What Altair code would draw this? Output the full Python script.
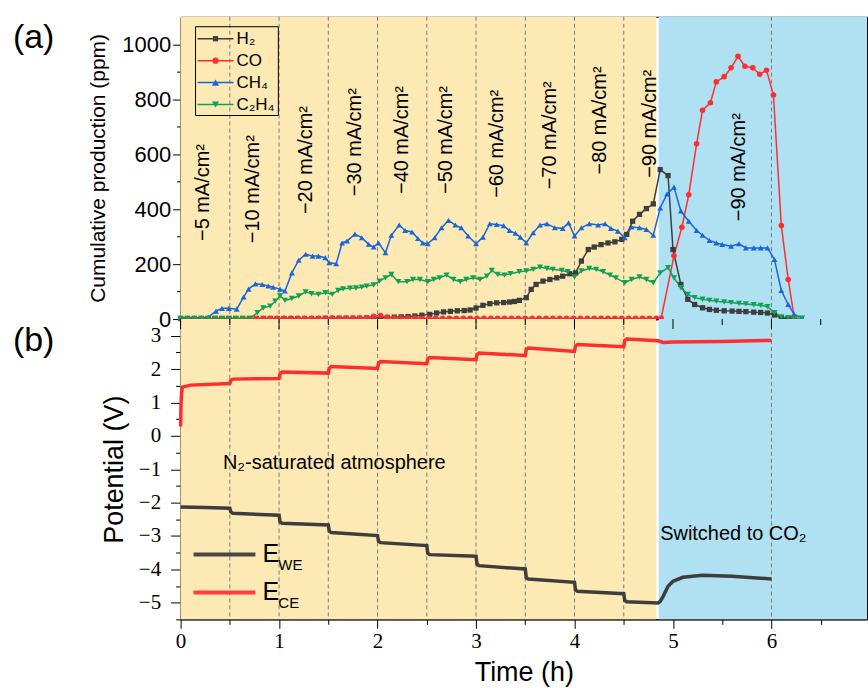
import altair as alt
import pandas as pd

# ---------------- shared time axis ----------------
X_MAX = 6.97
div_t = [0.5, 1.0, 1.5, 2.0, 2.5, 3.0, 3.5, 4.0, 4.5, 6.0]          # dashed separators
x_ticks = [0, 0.5, 1, 1.5, 2, 2.5, 3, 3.5, 4, 4.5, 5, 5.5, 6, 6.5]
x_major = [0, 1, 2, 3, 4, 5, 6]
x_minor = [0.5, 1.5, 2.5, 3.5, 4.5, 5.5, 6.5]
bg_x0 = [0, 4.855]
bg_x1 = [4.83, X_MAX]
bg_fill = ["#FDE9B3", "#AFE1F3"]

# ---------------- (a) cumulative production, ppm ----------------
h2 = [(0.00, 2), (0.07, 2), (0.14, 2), (0.21, 2), (0.28, 2), (0.35, 2), (0.42, 2), (0.49, 2),
      (0.56, 2), (0.63, 2), (0.70, 2), (0.77, 2), (0.84, 2), (0.91, 2), (0.98, 2), (1.05, 2),
      (1.12, 2), (1.19, 2), (1.26, 2), (1.33, 2), (1.40, 2), (1.47, 3), (1.54, 3), (1.61, 3),
      (1.68, 3), (1.75, 3), (1.82, 3), (1.89, 4), (1.96, 4), (2.03, 5), (2.10, 6), (2.17, 7),
      (2.24, 8), (2.31, 9), (2.38, 11), (2.45, 14), (2.53, 17), (2.60, 22), (2.67, 26),
      (2.74, 28), (2.81, 30), (2.88, 31), (2.94, 33), (3.00, 40), (3.07, 50), (3.14, 56),
      (3.21, 59), (3.28, 60), (3.34, 62), (3.39, 64), (3.44, 68), (3.51, 78), (3.56, 108),
      (3.61, 126), (3.68, 138), (3.75, 144), (3.82, 150), (3.88, 156), (3.95, 165), (4.01, 168),
      (4.07, 211), (4.14, 253), (4.20, 262), (4.27, 271), (4.34, 277), (4.41, 281), (4.48, 290),
      (4.53, 308), (4.59, 356), (4.66, 381), (4.73, 402), (4.80, 419), (4.87, 544), (4.95, 522),
      (5.00, 253), (5.08, 126), (5.15, 72), (5.22, 53), (5.30, 41), (5.37, 35), (5.44, 32),
      (5.52, 30), (5.60, 29), (5.67, 28), (5.74, 27), (5.82, 25), (5.89, 24), (5.96, 22),
      (6.03, 15), (6.10, 4), (6.17, 2), (6.23, 1)]

co = [(0.00, 1), (0.07, 1), (0.14, 1), (0.21, 1), (0.28, 1), (0.35, 1), (0.42, 1), (0.49, 1),
      (0.56, 1), (0.63, 1), (0.70, 1), (0.77, 2), (0.84, 3), (0.91, 3), (0.98, 3), (1.05, 3),
      (1.12, 3), (1.19, 3), (1.26, 3), (1.33, 3), (1.40, 3), (1.47, 3), (1.54, 3), (1.61, 3),
      (1.68, 4), (1.75, 4), (1.82, 4), (1.89, 5), (1.96, 10), (2.03, 13), (2.10, 6), (2.17, 4),
      (2.24, 4), (2.31, 4), (2.38, 4), (2.45, 3), (2.52, 3), (2.59, 3), (2.66, 3), (2.73, 3),
      (2.80, 3), (2.87, 3), (2.94, 3), (3.01, 3), (3.08, 3), (3.15, 3), (3.22, 3), (3.29, 3),
      (3.36, 3), (3.43, 3), (3.50, 3), (3.57, 3), (3.64, 3), (3.71, 3), (3.78, 3), (3.85, 3),
      (3.92, 3), (3.99, 3), (4.06, 3), (4.13, 3), (4.20, 3), (4.27, 3), (4.34, 3), (4.41, 3),
      (4.48, 3), (4.55, 3), (4.62, 3), (4.69, 3), (4.76, 3), (4.83, 3), (4.88, 3), (5.01, 230),
      (5.09, 334), (5.16, 452), (5.24, 638), (5.30, 760), (5.38, 787), (5.44, 863), (5.52, 882),
      (5.59, 914), (5.66, 956), (5.73, 920), (5.81, 914), (5.88, 891), (5.95, 905), (6.02, 815),
      (6.10, 340), (6.17, 144), (6.23, 8)]

ch4 = [(0.00, 5), (0.07, 5), (0.14, 5), (0.21, 5), (0.28, 7), (0.36, 29), (0.42, 39), (0.49, 39),
       (0.57, 36), (0.64, 80), (0.69, 109), (0.76, 128), (0.83, 126), (0.89, 120), (0.94, 116),
       (1.01, 109), (1.06, 102), (1.13, 168), (1.20, 214), (1.27, 236), (1.34, 229), (1.40, 229),
       (1.47, 223), (1.51, 205), (1.58, 201), (1.64, 277), (1.69, 284), (1.77, 309), (1.84, 296),
       (1.91, 272), (1.96, 262), (2.01, 277), (2.08, 241), (2.14, 305), (2.22, 342), (2.28, 322),
       (2.35, 317), (2.41, 293), (2.46, 277), (2.51, 274), (2.58, 296), (2.65, 332), (2.72, 359),
       (2.79, 342), (2.85, 332), (2.92, 302), (3.00, 274), (3.07, 298), (3.14, 347), (3.21, 344),
       (3.28, 340), (3.34, 322), (3.40, 312), (3.45, 298), (3.51, 277), (3.58, 314), (3.65, 342),
       (3.72, 347), (3.80, 332), (3.88, 330), (3.94, 350), (4.00, 302), (4.07, 332), (4.15, 347),
       (4.24, 342), (4.31, 347), (4.37, 330), (4.44, 320), (4.51, 296), (4.58, 335), (4.66, 332),
       (4.73, 326), (4.80, 305), (4.87, 404), (4.94, 455), (5.01, 480), (5.08, 393), (5.16, 356),
       (5.24, 322), (5.30, 305), (5.37, 286), (5.44, 277), (5.50, 271), (5.59, 265), (5.67, 274),
       (5.74, 259), (5.82, 259), (5.89, 259), (5.96, 259), (6.03, 217), (6.10, 104), (6.17, 53),
       (6.23, 17), (6.31, 5)]

c2h4 = [(0.00, 2), (0.07, 2), (0.14, 2), (0.21, 2), (0.28, 2), (0.35, 2), (0.42, 2), (0.49, 2),
        (0.56, 2), (0.63, 2), (0.70, 2), (0.78, 23), (0.84, 41), (0.91, 47), (0.96, 65),
        (1.01, 84), (1.06, 68), (1.13, 75), (1.20, 84), (1.27, 99), (1.33, 92), (1.40, 90),
        (1.47, 96), (1.54, 90), (1.60, 104), (1.65, 110), (1.72, 112), (1.78, 113), (1.84, 116),
        (1.89, 120), (1.96, 124), (2.02, 138), (2.08, 150), (2.14, 162), (2.21, 136), (2.30, 136),
        (2.36, 144), (2.43, 144), (2.51, 136), (2.57, 144), (2.63, 150), (2.70, 160), (2.77, 144),
        (2.84, 136), (2.90, 144), (2.97, 150), (3.04, 144), (3.11, 156), (3.16, 177), (3.22, 162),
        (3.29, 160), (3.35, 165), (3.44, 172), (3.51, 175), (3.58, 181), (3.65, 189), (3.72, 184),
        (3.78, 181), (3.87, 177), (3.93, 172), (4.00, 153), (4.07, 175), (4.15, 184), (4.22, 181),
        (4.29, 172), (4.36, 160), (4.42, 150), (4.51, 132), (4.58, 144), (4.66, 153), (4.73, 144),
        (4.80, 132), (4.87, 168), (4.95, 187), (5.01, 150), (5.08, 114), (5.15, 90), (5.22, 78),
        (5.30, 72), (5.37, 68), (5.44, 65), (5.52, 62), (5.59, 60), (5.67, 57), (5.74, 55),
        (5.82, 52), (5.89, 50), (5.96, 45), (6.03, 23), (6.10, 8), (6.17, 5), (6.23, 4), (6.31, 3)]

gas_names = ["H₂", "CO", "CH₄", "C₂H₄"]
gas_colors = ["#3d3d3d", "#ff2e2e", "#1766dd", "#12a152"]
gas_shapes = ["square", "circle", "triangle-up", "triangle-down"]
gas_sizes = [28, 38, 50, 50]

ann_t = [0.23, 0.74, 1.27, 1.77, 2.25, 2.70, 3.21, 3.75, 4.26, 4.77, 5.67]
ann_y = [284, 276, 382, 447, 455, 455, 441, 472, 526, 514, 356]
ann_label = ["−5 mA/cm²", "−10 mA/cm²", "−20 mA/cm²", "−30 mA/cm²", "−40 mA/cm²",
             "−50 mA/cm²", "−60 mA/cm²", "−70 mA/cm²", "−80 mA/cm²", "−90 mA/cm²",
             "−90 mA/cm²"]

# ---------------- (b) potentials, V ----------------
e_we = [(0.00, -2.13), (0.25, -2.15), (0.50, -2.17), (0.51, -2.28), (0.53, -2.32), (1.00, -2.38),
        (1.01, -2.58), (1.03, -2.62), (1.50, -2.67), (1.51, -2.86), (1.53, -2.90), (2.00, -2.99),
        (2.01, -3.16), (2.03, -3.20), (2.50, -3.29), (2.51, -3.52), (2.53, -3.56), (3.00, -3.61),
        (3.01, -3.85), (3.03, -3.89), (3.50, -3.99), (3.51, -4.25), (3.53, -4.29), (4.00, -4.39),
        (4.01, -4.62), (4.03, -4.66), (4.50, -4.73), (4.51, -4.93), (4.53, -4.97), (4.85, -5.01),
        (4.87, -4.96), (4.90, -4.81), (4.95, -4.51), (5.00, -4.36), (5.10, -4.24), (5.30, -4.18),
        (5.60, -4.21), (6.00, -4.29)]
e_ce = [(0.000, 0.28), (0.004, 0.90), (0.010, 1.30), (0.018, 1.46), (0.10, 1.52), (0.50, 1.57),
        (0.51, 1.66), (0.53, 1.70), (1.00, 1.72), (1.01, 1.86), (1.03, 1.91), (1.50, 1.88),
        (1.51, 2.03), (1.53, 2.08), (2.00, 2.02), (2.01, 2.18), (2.03, 2.23), (2.50, 2.16),
        (2.51, 2.30), (2.53, 2.35), (3.00, 2.28), (3.01, 2.44), (3.03, 2.48), (3.50, 2.41),
        (3.51, 2.59), (3.53, 2.63), (4.00, 2.53), (4.01, 2.70), (4.03, 2.74), (4.50, 2.67),
        (4.51, 2.86), (4.53, 2.90), (4.85, 2.85), (4.90, 2.80), (5.00, 2.81), (5.50, 2.83),
        (6.00, 2.86)]
e_names = ["E_WE", "E_CE"]
e_colors = ["#474747", "#ff3d3d"]
y_bot_ticks = [-5.5, -5, -4.5, -4, -3.5, -3, -2.5, -2, -1.5, -1, -0.5, 0, 0.5, 1, 1.5, 2, 2.5, 3]

# ---------------- frames ----------------
rows = []
for name, pts in zip(gas_names, [h2, co, ch4, c2h4]):
    for t, v in pts:
        rows.append({"series": name, "t": t, "v": v})
gas_df = pd.DataFrame(rows)

erows = []
for name, pts in zip(e_names, [e_we, e_ce]):
    for t, v in pts:
        erows.append({"series": name, "t": t, "v": v})
e_df = pd.DataFrame(erows)

bg_df = pd.DataFrame({"x0": bg_x0, "x1": bg_x1, "fill": bg_fill})
div_df = pd.DataFrame({"t": div_t})
ann_df = pd.DataFrame({"t": ann_t, "y": ann_y, "label": ann_label})
# tick stubs hanging from the top edge of panel (b): 3.5 V down to 3.2 V (major) / 3.32 V (minor)
maj_df = pd.DataFrame({"t": x_major, "y0": [3.5] * len(x_major), "y1": [3.2] * len(x_major)})
min_df = pd.DataFrame({"t": x_minor, "y0": [3.5] * len(x_minor), "y1": [3.32] * len(x_minor)})
txt_df = pd.DataFrame({"t": [0.43, 4.87], "v": [-1.0, -3.11],
                       "label": ["N₂-saturated atmosphere", "Switched to CO₂"]})
one = pd.DataFrame({"k": [0]})

SANS = "Liberation Sans"
SERIF = "Liberation Serif"
W, H_TOP, H_BOT = 688, 303, 301
INT_TEST = "abs(datum.value % 1) < 0.01"
INT_LABEL = INT_TEST + " ? format(datum.value, '.0f') : ''"

xs = alt.Scale(domain=[0, X_MAX], nice=False, zero=False)
ax_top = alt.Axis(labels=False, ticks=False, domain=True, title="", grid=False)
ax_bot = alt.Axis(values=x_ticks, labelOverlap=False, labelFlush=False,
                  labelExpr=INT_LABEL,
                  tickSize={"condition": {"test": INT_TEST, "value": 9}, "value": 5},
                  labelFont=SERIF, labelFontSize=21, labelPadding=2,
                  title="Time (h)", titleFont=SANS, titleFontSize=27, titlePadding=8,
                  titleFontWeight="normal")


def xt(f):
    return alt.X(f, type="quantitative", scale=xs, axis=ax_top)


def xb(f):
    return alt.X(f, type="quantitative", scale=xs, axis=ax_bot)


ys_top = alt.Scale(domain=[0, 1100], nice=False, zero=False)
ay_top = alt.Axis(values=[0, 100, 200, 300, 400, 500, 600, 700, 800, 900, 1000],
                  labelExpr="datum.value % 200 === 0 ? format(datum.value, '.0f') : ''",
                  labelOverlap=False,
                  tickSize={"condition": {"test": "datum.value % 200 === 0", "value": 8}, "value": 4},
                  labelFont=SANS, labelFontSize=22, labelPadding=2,
                  title="Cumulative production (ppm)", titleFont=SANS, titleFontSize=21,
                  titlePadding=13, titleFontWeight="normal", grid=False)
ys_bot = alt.Scale(domain=[-5.5, 3.5], nice=False, zero=False)
ay_bot = alt.Axis(values=y_bot_ticks, labelOverlap=False,
                  labelExpr=INT_LABEL,
                  tickSize={"condition": {"test": INT_TEST, "value": 10}, "value": 5},
                  labelFont=SERIF, labelFontSize=21, labelPadding=10,
                  title="Potential (V)", titleFont=SANS, titleFontSize=27, titlePadding=10,
                  titleFontWeight="normal", grid=False)


def yt(f):
    return alt.Y(f, type="quantitative", scale=ys_top, axis=ay_top)


def yb(f):
    return alt.Y(f, type="quantitative", scale=ys_bot, axis=ay_bot)


def background(xf):
    return alt.Chart(bg_df).mark_rect().encode(x=xf("x0"), x2="x1:Q",
                                               color=alt.Color("fill:N", scale=None))


def dividers(xf):
    return alt.Chart(div_df).mark_rule(color="#7a7a7a", strokeDash=[4, 3], strokeWidth=1).encode(x=xf("t"))


# ---- top panel ----
gcol = alt.Color("series:N", scale=alt.Scale(domain=gas_names, range=gas_colors), legend=None)
lines = alt.Chart(gas_df).mark_line(strokeWidth=1.5).encode(x=xt("t"), y=yt("v"), color=gcol)
points = alt.Chart(gas_df).mark_point(filled=True, opacity=1).encode(
    x=xt("t"), y=yt("v"), color=gcol,
    shape=alt.Shape("series:N", scale=alt.Scale(domain=gas_names, range=gas_shapes), legend=None),
    size=alt.Size("series:N", scale=alt.Scale(domain=gas_names, range=gas_sizes), legend=None))
ann = alt.Chart(ann_df).mark_text(angle=270, align="left", baseline="middle", font=SANS,
                                  fontSize=20, color="black").encode(x=xt("t"), y=yt("y"), text="label:N")

leg_y = [22, 44, 66, 88]
top_layers = [background(xt), dividers(xt), lines, points, ann,
              alt.Chart(one).mark_rect(fillOpacity=0, stroke="black", strokeWidth=1).encode(
                  x=alt.value(15), x2=alt.value(98), y=alt.value(10), y2=alt.value(99))]
for i in range(4):
    top_layers.append(alt.Chart(one).mark_rule(color=gas_colors[i], strokeWidth=1.5).encode(
        x=alt.value(17), x2=alt.value(53), y=alt.value(leg_y[i])))
    top_layers.append(alt.Chart(one).mark_point(shape=gas_shapes[i], filled=True, opacity=1,
                                                size=gas_sizes[i], color=gas_colors[i]).encode(
        x=alt.value(35), y=alt.value(leg_y[i])))
    top_layers.append(alt.Chart(one).mark_text(align="left", baseline="middle", font=SANS,
                                               fontSize=17, color="black").encode(
        x=alt.value(56), y=alt.value(leg_y[i]), text=alt.value(gas_names[i])))
top_layers.append(alt.Chart(one).mark_text(align="left", baseline="alphabetic", font=SANS,
                                           fontSize=34, color="black").encode(
    x=alt.value(-168), y=alt.value(31), text=alt.value("(a)")))
top = alt.layer(*top_layers).properties(width=W, height=H_TOP)

# ---- bottom panel ----
ecol = alt.Color("series:N", scale=alt.Scale(domain=e_names, range=e_colors), legend=None)
elines = alt.Chart(e_df).mark_line(strokeWidth=3.5).encode(x=xb("t"), y=yb("v"), color=ecol)
maj = alt.Chart(maj_df).mark_rule(color="black", strokeWidth=1).encode(
    x=xb("t"), y=yb("y0"), y2="y1:Q")
mnr = alt.Chart(min_df).mark_rule(color="black", strokeWidth=1).encode(
    x=xb("t"), y=yb("y0"), y2="y1:Q")
notes = alt.Chart(txt_df).mark_text(align="left", baseline="alphabetic", font=SANS, fontSize=20,
                                    color="black").encode(x=xb("t"), y=yb("v"), text="label:N")
bot_layers = [background(xb), dividers(xb), elines, maj, mnr, notes]
for i, (yy, sub) in enumerate(zip([236, 274], ["WE", "CE"])):
    bot_layers.append(alt.Chart(one).mark_rule(color=e_colors[i], strokeWidth=4).encode(
        x=alt.value(13), x2=alt.value(75), y=alt.value(yy)))
    bot_layers.append(alt.Chart(one).mark_text(align="left", baseline="alphabetic", font=SANS,
                                               fontSize=25, color="black").encode(
        x=alt.value(82), y=alt.value(yy + 8), text=alt.value("E")))
    bot_layers.append(alt.Chart(one).mark_text(align="left", baseline="alphabetic", font=SANS,
                                               fontSize=15, color="black").encode(
        x=alt.value(98), y=alt.value(yy + 16), text=alt.value(sub)))
bot_layers.append(alt.Chart(one).mark_text(align="left", baseline="alphabetic", font=SANS,
                                           fontSize=34, color="black").encode(
    x=alt.value(-168), y=alt.value(32), text=alt.value("(b)")))
bottom = alt.layer(*bot_layers).properties(width=W, height=H_BOT)

chart = alt.vconcat(top, bottom, spacing=0, bounds="flush").properties(
    padding={"left": 12, "top": 15, "right": 0, "bottom": 0}
).configure_view(stroke="black", strokeWidth=1).configure_axis(
    domainColor="black", tickColor="black", labelColor="black", titleColor="black", grid=False
)

chart.save("out.html", embed_options={"renderer": "svg", "actions": False})
